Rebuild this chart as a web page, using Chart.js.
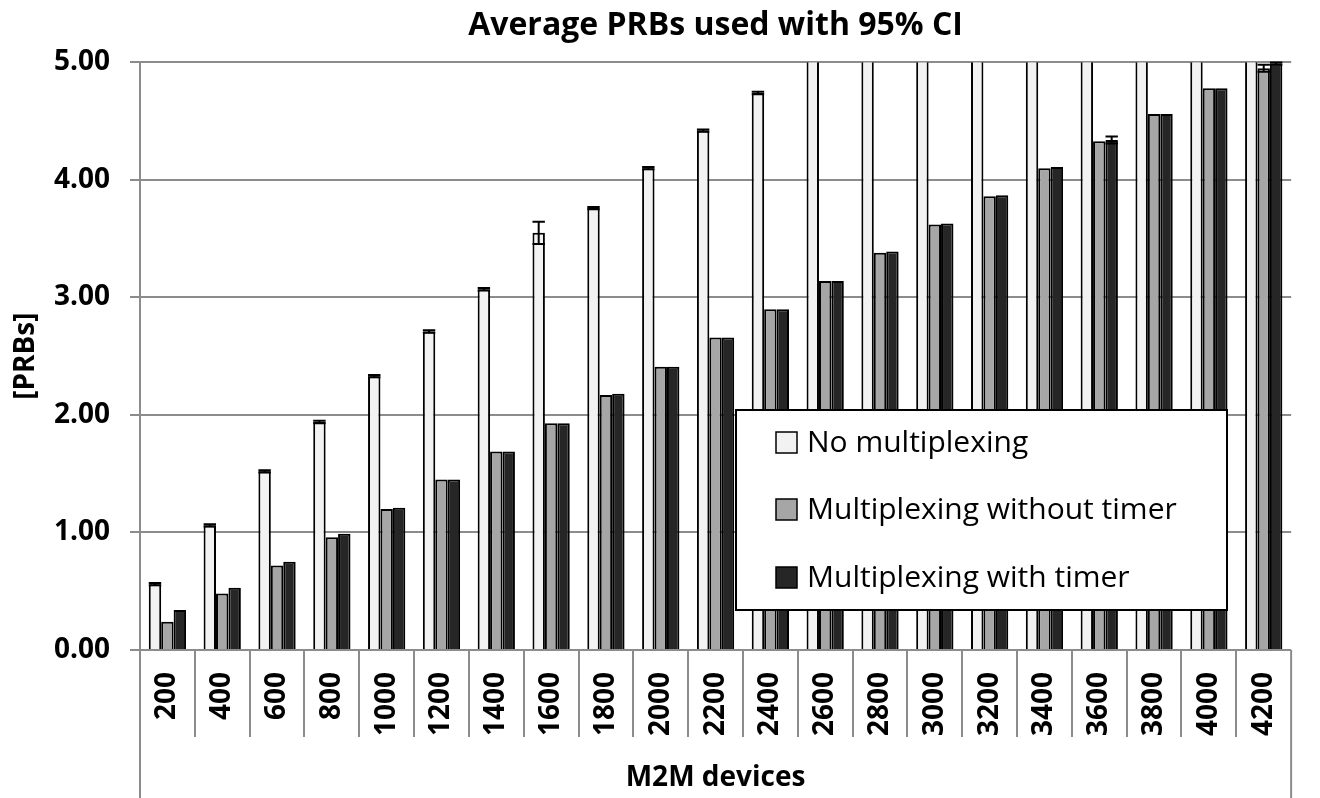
<!DOCTYPE html>
<html>
<head>
<meta charset="utf-8">
<title>Average PRBs used with 95% CI</title>
<script src="https://cdn.jsdelivr.net/npm/chart.js@4.4.1/dist/chart.umd.min.js"></script>
<style>
    html, body { margin: 0; padding: 0; background: #fff; }
    #wrap { width: 1320px; height: 798px; }
</style>
</head>
<body>
<div id="wrap"><canvas id="prbChart"></canvas></div>
<script>
var devices = ['200', '400', '600', '800', '1000', '1200', '1400', '1600', '1800', '2000', '2200',
               '2400', '2600', '2800', '3000', '3200', '3400', '3600', '3800', '4000', '4200'];

// average PRBs (no-multiplexing bars run past the 5.00 top from 2600 on)
var noMux      = [0.56, 1.06, 1.52, 1.94, 2.33, 2.71, 3.07, 3.55, 3.76, 4.10, 4.42,
                  4.74, 5.07, 5.39, 5.71, 6.03, 6.35, 6.67, 6.98, 7.30, 7.62];
var muxNoTimer = [0.24, 0.48, 0.72, 0.96, 1.20, 1.45, 1.69, 1.93, 2.17, 2.41, 2.66,
                  2.90, 3.14, 3.38, 3.62, 3.86, 4.10, 4.33, 4.56, 4.78, 4.95];
var muxTimer   = [0.34, 0.53, 0.75, 0.99, 1.21, 1.45, 1.69, 1.93, 2.18, 2.41, 2.66,
                  2.90, 3.14, 3.39, 3.63, 3.87, 4.11, 4.34, 4.56, 4.78, 4.99];

// 95% CI half widths
var ciNoMux      = [0.01, 0.01, 0.01, 0.01, 0.01, 0.01, 0.01, 0.095, 0.01, 0.01, 0.01,
                    0.01, 0.01, 0.01, 0.01, 0.01, 0.01, 0.01, 0.01, 0.01, 0.01];
var ciMuxNoTimer = [0, 0, 0, 0, 0, 0, 0, 0, 0, 0, 0,
                    0, 0, 0, 0, 0, 0, 0, 0, 0, 0.03];
var ciMuxTimer   = [0, 0, 0, 0, 0, 0, 0, 0, 0, 0, 0,
                    0, 0, 0, 0, 0, 0, 0.03, 0, 0, 0.01];

var seriesNames  = ['No multiplexing', 'Multiplexing without timer', 'Multiplexing with timer'];
var seriesColors = ['#f2f2f2', '#a6a6a6', '#262626'];
var ciSeries     = [ciNoMux, ciMuxNoTimer, ciMuxTimer];
var yMin = 0, yMax = 5, yStep = 1;

var gridColor = '#8c8c8c';
var fontFamily = '"Open Sans", Lato, sans-serif';

Chart.defaults.font.family = fontFamily;
Chart.defaults.color = '#000';

// 95% CI whiskers, drawn through the y scale
var errorBars = {
    id: 'errorBars',
    afterDatasetsDraw: function (chart) {
        var ctx = chart.ctx;
        var y = chart.scales.y;
        var area = chart.chartArea;

        ctx.save();
        ctx.beginPath();
        ctx.rect(area.left, area.top - 2, area.right - area.left, area.bottom - area.top + 2);
        ctx.clip();
        ctx.strokeStyle = '#000';
        ctx.lineWidth = 2;

        chart.data.datasets.forEach(function (ds, d) {
            var meta = chart.getDatasetMeta(d);
            ciSeries[d].forEach(function (c, i) {
                if (!c) return;
                var bar = meta.data[i];
                var half = bar.width / 2;
                var top = y.getPixelForValue(ds.data[i] + c);
                var bot = y.getPixelForValue(ds.data[i] - c);
                ctx.beginPath();
                ctx.moveTo(bar.x, top);
                ctx.lineTo(bar.x, bot);
                ctx.moveTo(bar.x - half, top);
                ctx.lineTo(bar.x + half, top);
                ctx.moveTo(bar.x - half, bot);
                ctx.lineTo(bar.x + half, bot);
                ctx.stroke();
            });
        });
        ctx.restore();
    }
};

// category separators under the axis and the outer frame lines
var axisFrame = {
    id: 'axisFrame',
    afterDraw: function (chart) {
        var ctx = chart.ctx;
        var x = chart.scales.x;
        var area = chart.chartArea;
        var step = x.getPixelForValue(1) - x.getPixelForValue(0);

        ctx.save();
        ctx.strokeStyle = gridColor;
        ctx.lineWidth = 2;
        ctx.beginPath();
        for (var i = 1; i < devices.length; i++) {
            var px = Math.round(x.getPixelForValue(i) - step / 2);
            ctx.moveTo(px, area.bottom);
            ctx.lineTo(px, area.bottom + 87);
        }
        ctx.moveTo(area.left, area.bottom);
        ctx.lineTo(area.left, chart.height);
        ctx.moveTo(area.right, area.bottom);
        ctx.lineTo(area.right, chart.height);
        ctx.stroke();
        ctx.restore();
    }
};

// boxed legend sitting inside the plot
var boxLegend = {
    id: 'boxLegend',
    afterDraw: function (chart) {
        var ctx = chart.ctx;
        var left = 736, top = 410, w = 491, h = 200;
        var rows = [442, 509, 577];

        ctx.save();
        ctx.fillStyle = '#fff';
        ctx.fillRect(left, top, w, h);
        ctx.strokeStyle = '#000';
        ctx.lineWidth = 2;
        ctx.strokeRect(left, top, w, h);

        ctx.font = '30px ' + fontFamily;
        ctx.textBaseline = 'middle';
        chart.data.datasets.forEach(function (ds, d) {
            ctx.fillStyle = ds.backgroundColor;
            ctx.fillRect(776, rows[d] - 10, 21, 21);
            ctx.lineWidth = 1.5;
            ctx.strokeStyle = '#000';
            ctx.strokeRect(776, rows[d] - 10, 21, 21);
            ctx.fillStyle = '#000';
            ctx.fillText(ds.label, 807, rows[d] + 1);
        });
        ctx.restore();
    }
};

function makeSeries(d, values) {
    return {
        label: seriesNames[d],
        data: values,
        backgroundColor: seriesColors[d],
        borderColor: '#000',
        borderWidth: 2,
        borderSkipped: 'bottom',
        categoryPercentage: 0.68,
        barPercentage: 1.0
    };
}

var prbChart = new Chart(document.getElementById('prbChart'), {
    type: 'bar',
    data: {
        labels: devices,
        datasets: [
            makeSeries(0, noMux),
            makeSeries(1, muxNoTimer),
            makeSeries(2, muxTimer)
        ]
    },
    options: {
        responsive: true,
        maintainAspectRatio: false,
        animation: false,
        layout: { padding: { left: 0, right: 7, top: 0, bottom: 0 } },
        plugins: {
            legend: { display: false },
            tooltip: { enabled: false },
            title: {
                display: true,
                text: 'Average PRBs used with 95% CI',
                fullSize: false,
                font: { size: 32, weight: 'bold' },
                color: '#000',
                padding: { top: 7, bottom: 17 }
            }
        },
        scales: {
            x: {
                grid: { display: true, drawOnChartArea: false, drawTicks: false, color: gridColor, lineWidth: 0 },
                border: { display: true, color: gridColor, width: 2 },
                ticks: {
                    autoSkip: false,
                    maxRotation: 90,
                    minRotation: 90,
                    padding: 22,
                    font: { size: 28, weight: 'bold' },
                    color: '#000'
                },
                title: {
                    display: true,
                    text: 'M2M devices',
                    font: { size: 28, weight: 'bold' },
                    color: '#000',
                    padding: { top: 0, bottom: 3 }
                },
                afterFit: function (scale) { scale.height = 148; }
            },
            y: {
                min: yMin,
                max: yMax,
                grid: { color: gridColor, lineWidth: 2, tickLength: 10 },
                border: { display: true, color: gridColor, width: 2 },
                ticks: {
                    stepSize: yStep,
                    padding: 20,
                    font: { size: 28, weight: 'bold' },
                    color: '#000',
                    callback: function (v) { return Number(v).toFixed(2); }
                },
                title: {
                    display: true,
                    text: '[PRBs]',
                    font: { size: 28, weight: 'bold' },
                    color: '#000',
                    padding: { top: 9, bottom: 0 }
                },
                afterFit: function (scale) { scale.width = 140; }
            }
        }
    },
    plugins: [errorBars, axisFrame, boxLegend]
});
</script>
</body>
</html>
